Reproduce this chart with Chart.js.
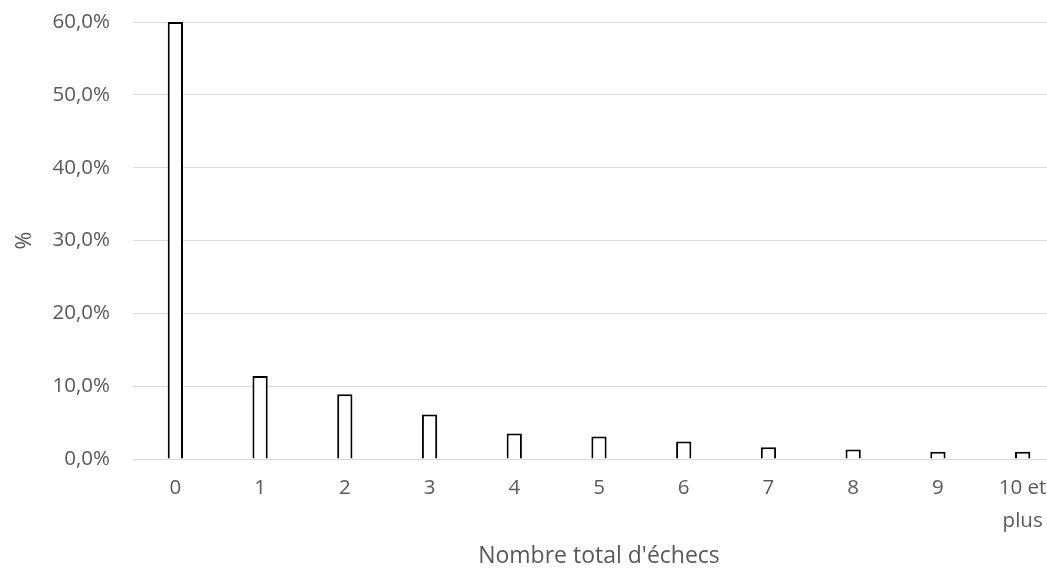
<!DOCTYPE html>
<html>
<head>
<meta charset="utf-8">
<script src="https://cdn.jsdelivr.net/npm/chart.js@4/dist/chart.umd.min.js"></script>
<style>
  html, body { margin: 0; padding: 0; background: #fff; overflow: hidden; }
  /* the source picture is cropped on the right, so the chart is wider than the window */
  #wrap { width: 1065px; height: 568px; }
</style>
</head>
<body>
<div id="wrap"><canvas id="myChart"></canvas></div>
<script>
const categories = ['0', '1', '2', '3', '4', '5', '6', '7', '8', '9', ['10 et', 'plus']];
const percents = [60.0, 11.4, 8.9, 6.1, 3.5, 3.1, 2.4, 1.6, 1.3, 1.0, 1.0];
const yTicks = [0, 10, 20, 30, 40, 50, 60];

const grey = '#595959';
const gridGrey = '#d9d9d9';

const ctx = document.getElementById('myChart');

new Chart(ctx, {
  type: 'bar',
  data: {
    labels: categories,
    datasets: [{
      label: '%',
      data: percents,
      backgroundColor: '#ffffff',
      borderColor: '#000000',
      borderWidth: 2,
      barPercentage: 0.18,
      categoryPercentage: 1,
    }]
  },
  options: {
    responsive: true,
    maintainAspectRatio: false,
    animation: false,
    layout: {
      padding: { top: 22, left: 8, right: 0, bottom: 0 }
    },
    plugins: {
      legend: { display: false },
      tooltip: { enabled: false }
    },
    scales: {
      x: {
        grid: { display: false, drawTicks: false },
        border: { display: true, color: gridGrey, width: 1 },
        ticks: {
          color: grey,
          padding: 13,
          maxRotation: 0,
          font: { family: "'Open Sans', sans-serif", size: 20.5, lineHeight: 1.6 }
        },
        title: {
          display: true,
          text: "Nombre total d'échecs",
          color: grey,
          padding: { top: 4, bottom: 0 },
          font: { family: "'Open Sans', sans-serif", size: 23, lineHeight: 1 }
        },
        afterFit: s => { s.height = 109; s.paddingLeft = 0; s.paddingRight = 0; }
      },
      y: {
        min: 0,
        max: 60,
        afterBuildTicks: s => { s.ticks = yTicks.map(v => ({ value: v })); },
        grid: { color: gridGrey, lineWidth: 1, drawTicks: false },
        border: { display: false },
        ticks: {
          color: grey,
          padding: 23,
          font: { family: "'Open Sans', sans-serif", size: 20.5 },
          callback: v => v.toFixed(1).replace('.', ',') + '%'
        },
        title: {
          display: true,
          text: '%',
          color: grey,
          padding: { top: 4, bottom: 4 },
          font: { family: "'Open Sans', sans-serif", size: 21.5 }
        },
        afterFit: s => { s.width = 125; s.paddingTop = 0; s.paddingBottom = 0; }
      }
    }
  }
});
</script>
</body>
</html>
